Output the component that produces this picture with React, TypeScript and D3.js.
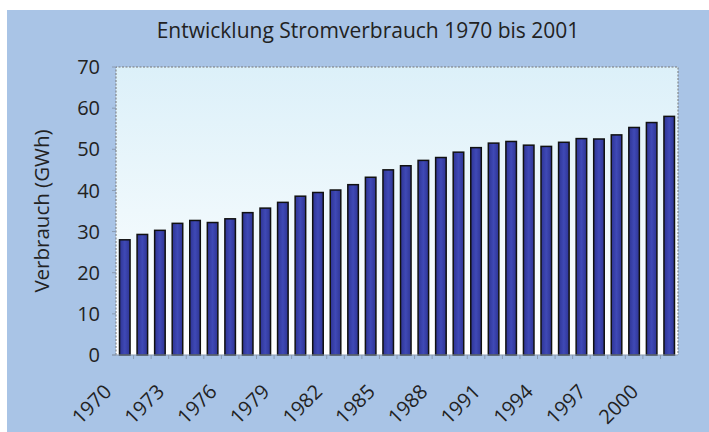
import React from "react";
import * as d3 from "d3";

const years: number[] = [
  1970, 1971, 1972, 1973, 1974, 1975, 1976, 1977, 1978, 1979, 1980, 1981, 1982, 1983, 1984, 1985,
  1986, 1987, 1988, 1989, 1990, 1991, 1992, 1993, 1994, 1995, 1996, 1997, 1998, 1999, 2000, 2001,
];
const consumption: number[] = [
  28.0, 29.3, 30.3, 32.0, 32.7, 32.2, 33.1, 34.6, 35.7, 37.1, 38.6, 39.5, 40.1, 41.4, 43.2, 45.0,
  46.0, 47.3, 48.0, 49.3, 50.4, 51.5, 51.9, 51.0, 50.7, 51.7, 52.6, 52.5, 53.5, 55.3, 56.5, 58.0,
];
const yTicks: number[] = [0, 10, 20, 30, 40, 50, 60, 70];
const xTickYears: number[] = [1970, 1973, 1976, 1979, 1982, 1985, 1988, 1991, 1994, 1997, 2000];
const title = "Entwicklung Stromverbrauch 1970 bis 2001";
const yTitle = "Verbrauch (GWh)";

const W = 709;
const H = 432;
const left = 116;
const right = 678;
const top = 67;
const bottom = 355;
const font = "'Open Sans', 'Noto Sans', sans-serif";

export default function App() {
  const x = d3
    .scaleBand<number>()
    .domain(years)
    .range([left, right])
    .paddingInner(0.4)
    .paddingOuter(0.2);
  const y = d3.scaleLinear().domain([0, 70]).range([bottom, top]);
  const step = x.step();
  const boundaries = years.slice(1).map((yr) => (x(yr) as number) - step * 0.2);

  return (
    <svg
      width={W}
      height={H}
      style={{ position: "absolute", left: 0, top: 0, display: "block" }}
    >
      <defs>
        <linearGradient id="plotbg" x1="0" y1="0" x2="0" y2="1">
          <stop offset="0%" stopColor="#dcf0f9" />
          <stop offset="50%" stopColor="#eef8fc" />
          <stop offset="100%" stopColor="#ffffff" />
        </linearGradient>
        <linearGradient id="barfill" x1="0" y1="0" x2="1" y2="0">
          <stop offset="0%" stopColor="#2e3494" />
          <stop offset="50%" stopColor="#3f49b6" />
          <stop offset="100%" stopColor="#2e3494" />
        </linearGradient>
      </defs>
      <rect x={0} y={0} width={W} height={H} fill="#ffffff" />
      <rect x={7} y={10} width={W - 7} height={H - 10} fill="#a9c4e6" />
      <text
        x={368}
        y={38}
        textAnchor="middle"
        fontFamily={font}
        fontSize={21}
        fill="#222"
      >
        {title}
      </text>
      <rect x={left} y={top} width={right - left} height={bottom - top} fill="url(#plotbg)" />
      <path
        d={`M${left},${bottom}V${top}H${right}V${bottom}`}
        fill="none"
        stroke="#777"
        strokeWidth={1}
        strokeDasharray="2,1.5"
      />
      {yTicks.map((t) => (
        <g key={t}>
          <line x1={left - 4} x2={left} y1={y(t)} y2={y(t)} stroke="#8a9ab0" strokeWidth={1} />
          <text
            x={100}
            y={y(t)}
            dy="0.36em"
            textAnchor="end"
            fontFamily={font}
            fontSize={20}
            fill="#222"
          >
            {t}
          </text>
        </g>
      ))}
      <text
        transform={`translate(49,${(top + bottom) / 2}) rotate(-90)`}
        textAnchor="middle"
        fontFamily={font}
        fontSize={20.5}
        fill="#222"
      >
        {yTitle}
      </text>
      {years.map((yr, i) => (
        <rect
          key={yr}
          x={x(yr)}
          y={y(consumption[i])}
          width={x.bandwidth()}
          height={bottom - y(consumption[i])}
          fill="url(#barfill)"
          stroke="#111"
          strokeWidth={1.5}
        />
      ))}
      <line x1={left - 4} x2={right} y1={bottom} y2={bottom} stroke="#8a9ab0" strokeWidth={1} />
      {boundaries.map((b, i) => (
        <line key={i} x1={b} x2={b} y1={bottom} y2={bottom + 4} stroke="#8a9ab0" strokeWidth={1} />
      ))}
      {xTickYears.map((yr) => {
        const cx = (x(yr) as number) + x.bandwidth() / 2;
        return (
          <text
            key={yr}
            transform={`translate(${cx - 12},393) rotate(-45)`}
            textAnchor="end"
            fontFamily={font}
            fontSize={20}
            fill="#222"
          >
            {yr}
          </text>
        );
      })}
    </svg>
  );
}
